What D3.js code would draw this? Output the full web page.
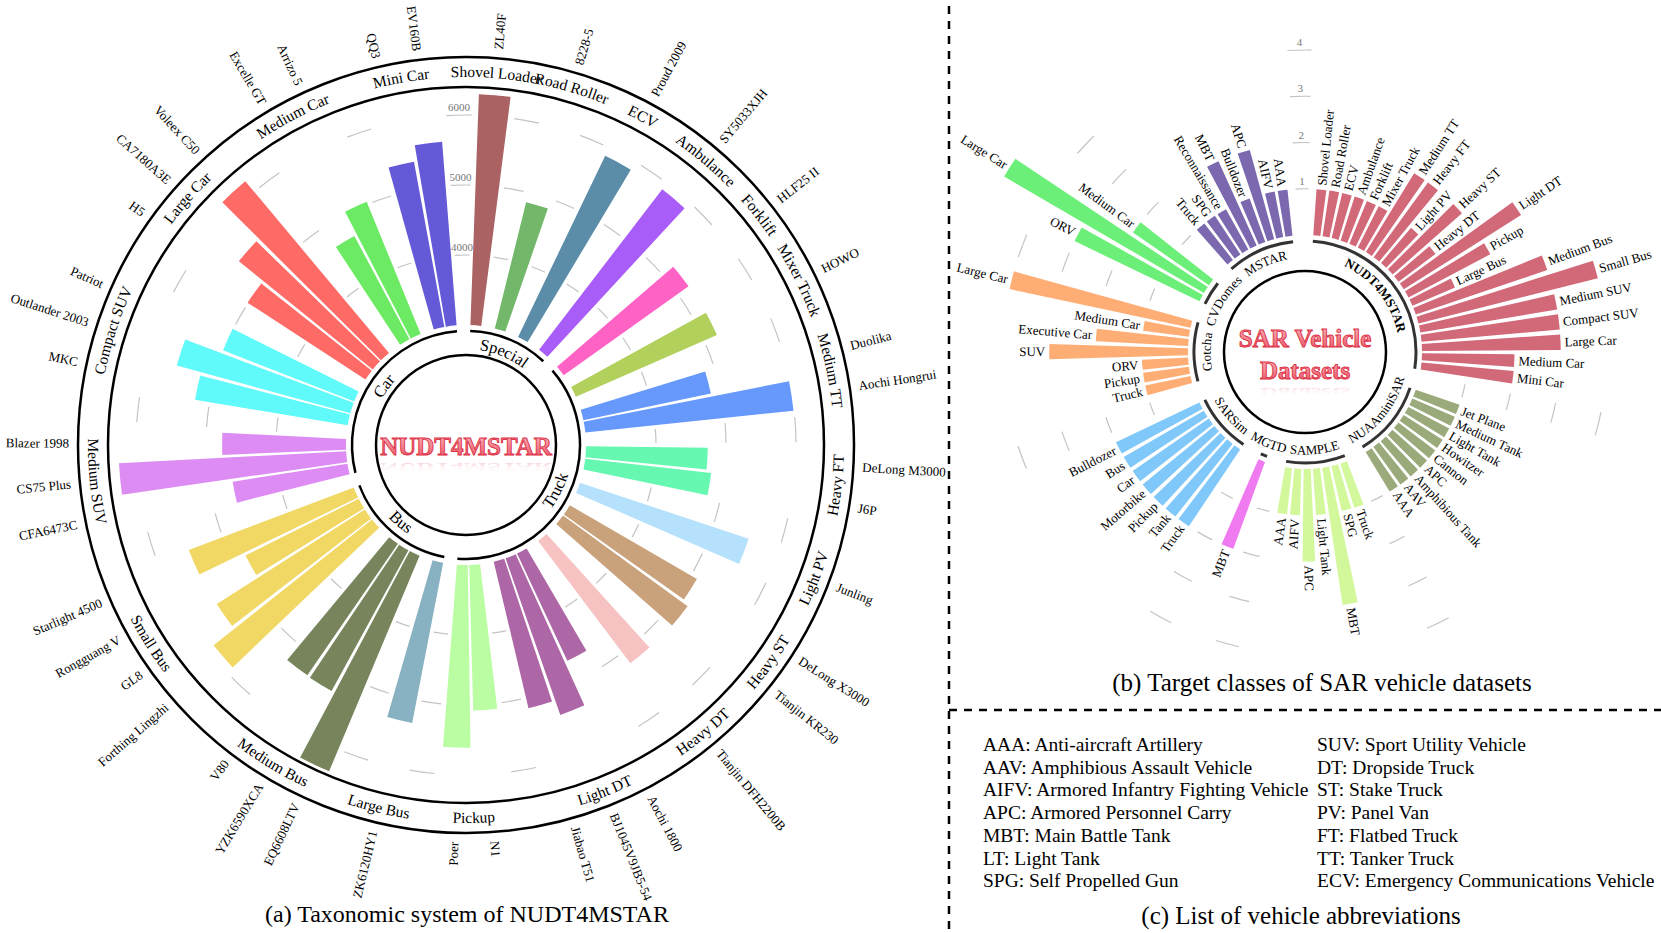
<!DOCTYPE html>
<html>
<head>
<meta charset="utf-8">
<script src="https://cdn.jsdelivr.net/npm/d3@7"></script>
<style>
body { margin: 0; background: #fff; }
svg { font-family: "Liberation Serif", "Times New Roman", serif; }
</style>
</head>
<body>
<svg id="fig" width="1661" height="933"></svg>
<script>
// (a) NUDT4MSTAR: models, their class and image counts (clockwise from top)
var modelNames = ["ZL40F", "8228-5", "Proud 2009", "SY5033XJH", "HLF25 II", "HOWO", "Duolika", "Aochi Hongrui",
    "DeLong M3000", "J6P", "Junling", "DeLong X3000", "Tianjin KR230", "Tianjin DFH2200B", "Aochi 1800",
    "BJ1045V9JB5-54", "Jiabao T51", "N1", "Poer", "ZK6120HY1", "EQ6608LTV", "YZK6590XCA", "V80",
    "Forthing Lingzhi", "GL8", "Rongguang V", "Starlight 4500", "CFA6473C", "CS75 Plus", "Blazer 1998",
    "MKC", "Outlander 2003", "Patriot", "H5", "CA7180A3E", "Voleex C50", "Excelle GT", "Arrizo 5", "QQ3", "EV160B"];
var modelClass = ["Shovel Loader", "Road Roller", "ECV", "Ambulance", "Forklift", "Mixer Truck", "Medium TT", "Medium TT",
    "Heavy FT", "Heavy FT", "Light PV", "Heavy ST", "Heavy ST", "Heavy DT", "Light DT",
    "Light DT", "Light DT", "Pickup", "Pickup", "Large Bus", "Medium Bus", "Medium Bus", "Medium Bus",
    "Small Bus", "Small Bus", "Small Bus", "Small Bus", "Medium SUV", "Medium SUV", "Medium SUV",
    "Compact SUV", "Compact SUV", "Compact SUV", "Large Car", "Large Car", "Large Car", "Medium Car", "Medium Car", "Mini Car", "Mini Car"];
var modelImages = [6300, 4860, 5870, 5890, 5190, 5200, 4860, 5990,
    4740, 4810, 5540, 5100, 5200, 5190, 4690,
    5370, 5150, 5080, 5610, 5330, 6340, 5290, 5280,
    5890, 5510, 4810, 5520, 4660, 6250, 4770,
    5210, 5570, 5010, 5010, 5460, 6200, 4670, 5040, 5400, 5630];
var classNames = ["Shovel Loader", "Road Roller", "ECV", "Ambulance", "Forklift", "Mixer Truck", "Medium TT", "Heavy FT",
    "Light PV", "Heavy ST", "Heavy DT", "Light DT", "Pickup", "Large Bus", "Medium Bus", "Small Bus",
    "Medium SUV", "Compact SUV", "Large Car", "Medium Car", "Mini Car"];
var classGroup = ["Special", "Special", "Special", "Special", "Truck", "Truck", "Truck", "Truck",
    "Truck", "Truck", "Truck", "Truck", "Truck", "Bus", "Bus", "Bus",
    "Car", "Car", "Car", "Car", "Car"];
var classColors = ["#aa6262", "#73b86a", "#5b8da9", "#a85cf8", "#ff62c5", "#b2d05c", "#6799fc", "#66f7b0",
    "#b6e1fc", "#c9a27c", "#f7c2c2", "#ae67a6", "#bafda3", "#88b1c1", "#78855c", "#f1d864",
    "#dd8cf4", "#60fafa", "#fe6a66", "#6cea64", "#645ad7"];
var groupNames = ["Special", "Truck", "Bus", "Car"];
var imageTicks = [4000, 5000, 6000];

// (b) SAR vehicle datasets: classes and number of types (clockwise from top)
var dsNames = ["NUDT4MSTAR", "NUAAminiSAR", "SAMPLE", "MGTD", "SARSim", "Gotcha", "CVDomes", "MSTAR"];
var dsColors = ["#d16979", "#9aaa7a", "#d3f89b", "#f07af0", "#7fc8f9", "#feae74", "#6cef79", "#7b68af"];
var sarClass = ["Shovel Loader", "Road Roller", "ECV", "Ambulance", "Forklift", "Mixer Truck", "Medium TT", "Heavy FT",
    "Light PV", "Heavy ST", "Heavy DT", "Light DT", "Pickup", "Large Bus", "Medium Bus", "Small Bus",
    "Medium SUV", "Compact SUV", "Large Car", "Medium Car", "Mini Car",
    "Jet Plane", "Medium Tank", "Light Tank", "Howitzer", "Cannon", "APC", "Amphibious Tank", "AAV", "AAA",
    "Truck", "SPG", "MBT", "Light Tank", "APC", "AIFV", "AAA",
    "MBT",
    "Truck", "Tank", "Pickup", "Motorbike", "Car", "Bus", "Bulldozer",
    "Truck", "Pickup", "ORV", "SUV", "Executive Car", "Medium Car", "Large Car",
    "ORV", "Large Car", "Medium Car",
    "Truck", "SPG", "Reconnaissance", "MBT", "Bulldozer", "APC", "AIFV", "AAA"];
var sarDataset = ["NUDT4MSTAR", "NUDT4MSTAR", "NUDT4MSTAR", "NUDT4MSTAR", "NUDT4MSTAR", "NUDT4MSTAR", "NUDT4MSTAR", "NUDT4MSTAR",
    "NUDT4MSTAR", "NUDT4MSTAR", "NUDT4MSTAR", "NUDT4MSTAR", "NUDT4MSTAR", "NUDT4MSTAR", "NUDT4MSTAR", "NUDT4MSTAR",
    "NUDT4MSTAR", "NUDT4MSTAR", "NUDT4MSTAR", "NUDT4MSTAR", "NUDT4MSTAR",
    "NUAAminiSAR", "NUAAminiSAR", "NUAAminiSAR", "NUAAminiSAR", "NUAAminiSAR", "NUAAminiSAR", "NUAAminiSAR", "NUAAminiSAR", "NUAAminiSAR",
    "SAMPLE", "SAMPLE", "SAMPLE", "SAMPLE", "SAMPLE", "SAMPLE", "SAMPLE",
    "MGTD",
    "SARSim", "SARSim", "SARSim", "SARSim", "SARSim", "SARSim", "SARSim",
    "Gotcha", "Gotcha", "Gotcha", "Gotcha", "Gotcha", "Gotcha", "Gotcha",
    "CVDomes", "CVDomes", "CVDomes",
    "MSTAR", "MSTAR", "MSTAR", "MSTAR", "MSTAR", "MSTAR", "MSTAR", "MSTAR"];
var sarTypes = [1, 1, 1, 1, 1, 1, 2, 2,
    1, 2, 1, 3, 2, 1, 3, 4,
    3, 3, 3, 2, 2,
    1, 1, 1, 1, 1, 1, 1, 1, 1,
    1, 1, 3, 1, 2, 1, 1,
    2,
    2, 2, 2, 2, 2, 2, 2,
    1, 1, 1, 3, 2, 1, 4,
    3, 5, 2,
    1, 1, 1, 2, 1, 2, 1, 1];
var typeTicks = [1, 2, 3, 4];

// (c) abbreviations
var abbrLeft = ["AAA: Anti-aircraft Artillery", "AAV: Amphibious Assault Vehicle", "AIFV: Armored Infantry Fighting Vehicle",
    "APC: Armored Personnel Carry", "MBT: Main Battle Tank", "LT: Light Tank", "SPG: Self Propelled Gun"];
var abbrRight = ["SUV: Sport Utility Vehicle", "DT: Dropside Truck", "ST: Stake Truck", "PV: Panel Van",
    "FT: Flatbed Truck", "TT: Tanker Truck", "ECV: Emergency Communications Vehicle"];

var svg = d3.select("#fig"),
    deg = Math.PI / 180;

// helpers for polar drawing
function pt(r, a) { return [r * Math.sin(a), -r * Math.cos(a)]; }
function arcD(r, a0, a1) {
    var p0 = pt(r, a0), p1 = pt(r, a1);
    return "M" + p0[0] + "," + p0[1] + "A" + r + "," + r + " 0 " +
        (Math.abs(a1 - a0) > Math.PI ? 1 : 0) + "," + (a1 > a0 ? 1 : 0) + " " + p1[0] + "," + p1[1];
}
var pathId = 0;
function curvedLabel(g, text, r, a, size, weight) {
    var cw = Math.cos(a) > -0.05,
        span = 80 * deg,
        id = "tp" + (pathId++),
        rr = cw ? r - size * 0.32 : r + size * 0.32;
    g.append("path").attr("id", id).attr("fill", "none")
        .attr("d", cw ? arcD(rr, a - span, a + span) : arcD(rr, a + span, a - span));
    g.append("text").style("font-size", size + "px").style("font-weight", weight || "normal")
        .append("textPath").attr("href", "#" + id).attr("startOffset", "50%")
        .attr("text-anchor", "middle").text(text);
}
function radialLabel(g, text, r, a, size) {
    var d = (a / deg) % 360,
        flip = d > 180;
    g.append("text")
        .attr("transform", "rotate(" + (d - 90) + ")translate(" + r + ",0)" + (flip ? "rotate(180)" : ""))
        .attr("text-anchor", flip ? "end" : "start")
        .attr("dominant-baseline", "central")
        .style("font-size", size + "px")
        .text(text);
}

// gradients for the center titles
var defs = svg.append("defs");
var lg = defs.append("linearGradient").attr("id", "redFill").attr("x1", 0).attr("y1", 0).attr("x2", 0).attr("y2", 1);
lg.append("stop").attr("offset", "0%").attr("stop-color", "#f9b9c0");
lg.append("stop").attr("offset", "100%").attr("stop-color", "#ea4f61");
var rg = defs.append("linearGradient").attr("id", "reflFill").attr("x1", 0).attr("y1", 0).attr("x2", 0).attr("y2", 1);
rg.append("stop").attr("offset", "0%").attr("stop-color", "#e84a5c").attr("stop-opacity", 0);
rg.append("stop").attr("offset", "55%").attr("stop-color", "#e84a5c").attr("stop-opacity", 0.05);
rg.append("stop").attr("offset", "100%").attr("stop-color", "#e84a5c").attr("stop-opacity", 0.32);

// red title with a faint mirror image under its last line
function glossyText(g, lines, y0, lh, size) {
    lines.forEach(function(s, i) {
        var y = y0 + i * lh;
        if (i === lines.length - 1) {
            g.append("text").attr("x", 0).attr("y", y).attr("text-anchor", "middle")
                .attr("transform", "translate(0," + (y + 8.5) + ")scale(1,-0.5)translate(0," + (-y) + ")")
                .style("font-size", size + "px").style("font-weight", "bold")
                .attr("fill", "url(#reflFill)").text(s);
        }
        g.append("text").attr("x", 0).attr("y", y).attr("text-anchor", "middle")
            .style("font-size", size + "px").style("font-weight", "bold")
            .attr("fill", "url(#redFill)").attr("stroke", "#dc3045").attr("stroke-width", 0.9)
            .text(s);
    });
}

// ---------------- (a) ----------------
var gA = svg.append("g").attr("transform", "translate(466,445)");

var slotsA = [];
classNames.forEach(function(c, ci) {
    modelNames.forEach(function(m, mi) {
        if (modelClass[mi] === c) slotsA.push({key: "m" + mi, name: m, cls: ci, value: modelImages[mi]});
    });
    slotsA.push({key: "gap" + ci, gap: true});
});
var barsA = slotsA.filter(function(d) { return !d.gap; }),
    gapsA = slotsA.filter(function(d) { return d.gap; });

var xA = d3.scaleBand()
    .domain(slotsA.map(function(d) { return d.key; }))
    .range([1.75 * deg, 1.75 * deg + 2 * Math.PI])
    .paddingInner(0.12).paddingOuter(0.06);
var yA = d3.scaleLinear().domain([3000, 6000]).range([120, 330]);
var bwA = xA.bandwidth();

// grid pieces in the empty slots
gapsA.forEach(function(d) {
    imageTicks.forEach(function(t) {
        gA.append("path")
            .attr("d", arcD(yA(t), xA(d.key) + bwA * 0.08, xA(d.key) + bwA * 0.92))
            .attr("fill", "none").attr("stroke", "#c4c4c4").attr("stroke-width", 1.2);
    });
});
var tickAngleA = xA(gapsA[gapsA.length - 1].key) + bwA / 2;
imageTicks.forEach(function(t) {
    var p = pt(yA(t), tickAngleA);
    gA.append("text").attr("x", p[0]).attr("y", p[1] - 4).attr("text-anchor", "middle")
        .style("font-size", "11px").attr("fill", "#777").text(t);
});

// bars
var arcA = d3.arc()
    .innerRadius(yA(3000))
    .outerRadius(function(d) { return yA(d.value); })
    .startAngle(function(d) { return xA(d.key); })
    .endAngle(function(d) { return xA(d.key) + bwA; });
gA.selectAll("path.bar").data(barsA).enter().append("path")
    .attr("class", "bar").attr("d", arcA)
    .attr("fill", function(d) { return classColors[d.cls]; });

// rings
gA.append("circle").attr("r", 90).attr("fill", "none").attr("stroke", "#000").attr("stroke-width", 2.5);
gA.append("circle").attr("r", 358).attr("fill", "none").attr("stroke", "#000").attr("stroke-width", 2.5);
gA.append("circle").attr("r", 388).attr("fill", "none").attr("stroke", "#000").attr("stroke-width", 2.5);

// group arcs and labels
groupNames.forEach(function(gn) {
    var s = barsA.filter(function(d) { return classGroup[d.cls] === gn; }),
        a0 = xA(s[0].key),
        a1 = xA(s[s.length - 1].key) + bwA;
    gA.append("path").attr("d", arcD(114, a0, a1)).attr("fill", "none")
        .attr("stroke", "#000").attr("stroke-width", 2.5);
    curvedLabel(gA, gn, 101, (a0 + a1) / 2, 16.5);
});

// class labels in the outer ring
classNames.forEach(function(c, ci) {
    var s = barsA.filter(function(d) { return d.cls === ci; }),
        a = (xA(s[0].key) + xA(s[s.length - 1].key) + bwA) / 2;
    curvedLabel(gA, c, 373, a, 15.5);
});

// model labels
barsA.forEach(function(d) {
    radialLabel(gA, d.name, 397, xA(d.key) + bwA / 2, 13);
});

glossyText(gA, ["NUDT4MSTAR"], 10, 0, 25);

// ---------------- (b) ----------------
var gB = svg.append("g").attr("transform", "translate(1305,352)");

var slotsB = [];
dsNames.forEach(function(dn, di) {
    sarClass.forEach(function(c, i) {
        if (sarDataset[i] === dn) slotsB.push({key: "c" + i, name: c, ds: di, value: sarTypes[i]});
    });
    slotsB.push({key: "g" + di + "a", gap: true, ds: di});
    slotsB.push({key: "g" + di + "b", gap: true, ds: di});
});
var barsB = slotsB.filter(function(d) { return !d.gap; });

var xB = d3.scaleBand()
    .domain(slotsB.map(function(d) { return d.key; }))
    .range([3.5 * deg, 3.5 * deg + 2 * Math.PI])
    .paddingInner(0.24).paddingOuter(0.12);
var yB = d3.scaleLinear().domain([0, 4]).range([117, 302]);
var bwB = xB.bandwidth();

// grid pieces between datasets
dsNames.forEach(function(dn, di) {
    var a0 = xB("g" + di + "a") + bwB / 2,
        a1 = xB("g" + di + "b") + bwB / 2;
    typeTicks.forEach(function(t) {
        gB.append("path").attr("d", arcD(yB(t), a0, a1)).attr("fill", "none")
            .attr("stroke", "#c4c4c4").attr("stroke-width", 1.2);
    });
    if (di === dsNames.length - 1) {
        typeTicks.forEach(function(t) {
            var p = pt(yB(t), (a0 + a1) / 2);
            gB.append("text").attr("x", p[0]).attr("y", p[1] - 4).attr("text-anchor", "middle")
                .style("font-size", "11px").attr("fill", "#777").text(t);
        });
    }
});

var arcB = d3.arc()
    .innerRadius(yB(0))
    .outerRadius(function(d) { return yB(d.value); })
    .startAngle(function(d) { return xB(d.key); })
    .endAngle(function(d) { return xB(d.key) + bwB; });
gB.selectAll("path.bar").data(barsB).enter().append("path")
    .attr("class", "bar").attr("d", arcB)
    .attr("fill", function(d) { return dsColors[d.ds]; });

gB.append("circle").attr("r", 81).attr("fill", "none").attr("stroke", "#000").attr("stroke-width", 2.5);

dsNames.forEach(function(dn, di) {
    var s = barsB.filter(function(d) { return d.ds === di; }),
        a0 = xB(s[0].key),
        a1 = xB(s[s.length - 1].key) + bwB;
    gB.append("path").attr("d", arcD(111, a0, a1)).attr("fill", "none")
        .attr("stroke", "#333").attr("stroke-width", 3);
    curvedLabel(gB, dn, 98.5, (a0 + a1) / 2, 13, dn === "NUDT4MSTAR" ? "bold" : "normal");
});

barsB.forEach(function(d) {
    radialLabel(gB, d.name, yB(d.value) + 4, xB(d.key) + bwB / 2, 13);
});

glossyText(gB, ["SAR Vehicle", "Datasets"], -5, 32, 25);

// ---------------- (c) and frame ----------------
abbrLeft.forEach(function(s, i) {
    svg.append("text").attr("x", 983).attr("y", 751 + i * 22.7).style("font-size", "19.5px").text(s);
});
abbrRight.forEach(function(s, i) {
    svg.append("text").attr("x", 1317).attr("y", 751 + i * 22.7).style("font-size", "19.5px").text(s);
});

svg.append("line").attr("x1", 949).attr("x2", 949).attr("y1", 6).attr("y2", 933)
    .attr("stroke", "#000").attr("stroke-width", 2.5).attr("stroke-dasharray", "8,7");
svg.append("line").attr("x1", 949).attr("x2", 1661).attr("y1", 710).attr("y2", 710)
    .attr("stroke", "#000").attr("stroke-width", 2.5).attr("stroke-dasharray", "8,7");

svg.append("text").attr("x", 467).attr("y", 922).attr("text-anchor", "middle")
    .style("font-size", "24px").text("(a) Taxonomic system of NUDT4MSTAR");
svg.append("text").attr("x", 1322).attr("y", 691).attr("text-anchor", "middle")
    .style("font-size", "25px").text("(b) Target classes of SAR vehicle datasets");
svg.append("text").attr("x", 1301).attr("y", 924).attr("text-anchor", "middle")
    .style("font-size", "25px").text("(c) List of vehicle abbreviations");
</script>
</body>
</html>
